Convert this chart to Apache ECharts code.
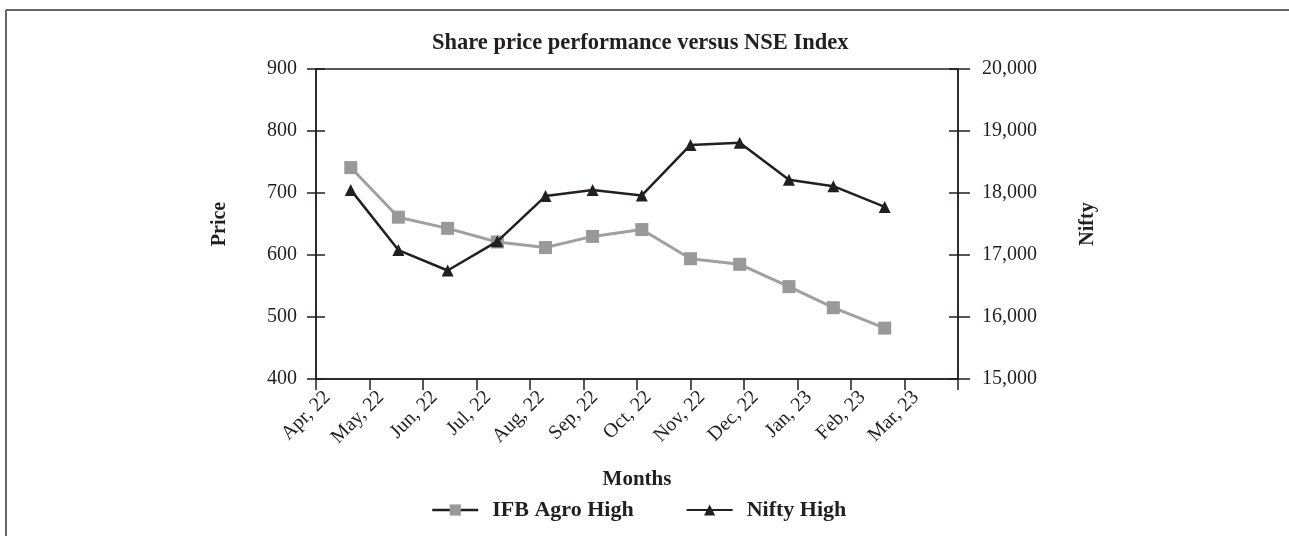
<!DOCTYPE html>
<html>
  <head>
    <meta charset="utf-8" />
    <title>Share price performance versus NSE Index</title>
    <script src="https://cdn.jsdelivr.net/npm/echarts@6/dist/echarts.min.js"></script>
    <style>
      body { margin: 0; background: #fff; }
    </style>
  </head>
  <body>
    <div id="chart" style="width: 1289px; height: 536px"></div>

    <script>
      // month tick labels (one per tick, last tick is unlabeled)
      const months = ['Apr, 22', 'May, 22', 'Jun, 22', 'Jul, 22', 'Aug, 22', 'Sep, 22',
        'Oct, 22', 'Nov, 22', 'Dec, 22', 'Jan, 23', 'Feb, 23', 'Mar, 23'];

      // where each point sits along the month axis
      const pointPos = [0.65, 1.54, 2.46, 3.39, 4.29, 5.17, 6.09, 7.0, 7.92, 8.84, 9.67, 10.63];

      const ifbHigh = [741, 661, 643, 621, 612, 630, 641, 594, 585, 549, 515, 482];
      const niftyHigh = [18050, 17080, 16750, 17220, 17950, 18050, 17960, 18775, 18810, 18215, 18110, 17775];

      const font = 'Liberation Serif';
      const ink = '#231f20';

      function pairs(vals) {
        return vals.map((v, i) => [pointPos[i], v]);
      }

      let myChart = echarts.init(document.getElementById('chart'));

      // extra axes only to draw the inner half of the crossing ticks
      const tickAxis = (pos, min, max, interval) => ({
        type: 'value',
        position: pos,
        min: min,
        max: max,
        interval: interval,
        axisLine: { show: false },
        axisLabel: { show: false },
        splitLine: { show: false },
        axisTick: { show: true, inside: true, length: 9, lineStyle: { color: ink, width: 1.5 } },
      });

      let opts = {
        animation: false,
        backgroundColor: '#fff',
        textStyle: { fontFamily: font, color: ink },
        title: {
          text: 'Share price performance versus NSE Index',
          left: 427,
          top: 27,
          textStyle: { fontFamily: font, fontSize: 22.5, fontWeight: 'bold', color: ink },
        },
        grid: {
          left: 316,
          right: 331,
          top: 69,
          bottom: 157,
          show: true,
          borderColor: ink,
          borderWidth: 1.5,
        },
        xAxis: {
          type: 'value',
          min: 0,
          max: 12,
          interval: 1,
          name: 'Months',
          nameLocation: 'middle',
          nameGap: 90,
          nameTextStyle: { fontFamily: font, fontSize: 21, fontWeight: 'bold', color: ink },
          axisLine: { lineStyle: { color: ink, width: 1.5 } },
          axisTick: { length: 11, lineStyle: { color: ink, width: 1.5 } },
          splitLine: { show: false },
          axisLabel: {
            rotate: 45,
            fontFamily: font,
            fontSize: 20,
            color: ink,
            margin: 4,
            verticalAlign: 'top',
            lineHeight: 32,
            formatter: (v) => months[v] || '',
          },
        },
        yAxis: [
          {
            type: 'value',
            position: 'left',
            min: 400,
            max: 900,
            interval: 100,
            name: 'Price',
            nameLocation: 'middle',
            nameGap: 86,
            nameTextStyle: { fontFamily: font, fontSize: 20, fontWeight: 'bold', color: ink },
            axisLine: { show: true, lineStyle: { color: ink, width: 1.5 } },
            axisTick: { show: true, length: 9, lineStyle: { color: ink, width: 1.5 } },
            splitLine: { show: false },
            axisLabel: { fontFamily: font, fontSize: 20, color: ink, margin: 19 },
          },
          {
            type: 'value',
            position: 'right',
            min: 15000,
            max: 20000,
            interval: 1000,
            name: 'Nifty',
            nameLocation: 'middle',
            nameGap: 120,
            nameTextStyle: { fontFamily: font, fontSize: 20, fontWeight: 'bold', color: ink },
            axisLine: { show: true, lineStyle: { color: ink, width: 1.5 } },
            axisTick: { show: true, length: 12, lineStyle: { color: ink, width: 1.5 } },
            splitLine: { show: false },
            axisLabel: {
              fontFamily: font,
              fontSize: 20,
              color: ink,
              margin: 24,
              formatter: (v) => v.toLocaleString('en-US'),
            },
          },
          tickAxis('left', 400, 900, 100),
          tickAxis('right', 15000, 20000, 1000),
        ],
        legend: {
          left: 426,
          top: 494,
          itemWidth: 46,
          itemHeight: 14,
          itemGap: 52,
          textStyle: {
            fontFamily: font,
            fontSize: 22,
            fontWeight: 'bold',
            color: ink,
            padding: [0, 0, 0, 9],
          },
          data: [
            { name: 'IFB Agro High', lineStyle: { color: ink, width: 2.5 } },
            { name: 'Nifty High' },
          ],
        },
        series: [
          {
            name: 'IFB Agro High',
            type: 'line',
            yAxisIndex: 0,
            data: pairs(ifbHigh),
            symbol: 'rect',
            symbolSize: 13,
            itemStyle: { color: '#999999' },
            lineStyle: { color: '#a0a0a0', width: 3 },
            z: 2,
          },
          {
            name: 'Nifty High',
            type: 'line',
            yAxisIndex: 1,
            data: pairs(niftyHigh),
            symbol: 'triangle',
            symbolSize: 12,
            itemStyle: { color: ink },
            lineStyle: { color: ink, width: 2.5 },
            z: 3,
          },
        ],
        graphic: [
          { type: 'line', shape: { x1: 6, y1: 10, x2: 1289, y2: 10 }, style: { stroke: '#666', lineWidth: 2 } },
          { type: 'line', shape: { x1: 6, y1: 10, x2: 6, y2: 536 }, style: { stroke: '#666', lineWidth: 2 } },
        ],
      };

      myChart.setOption(opts);
    </script>
  </body>
</html>
